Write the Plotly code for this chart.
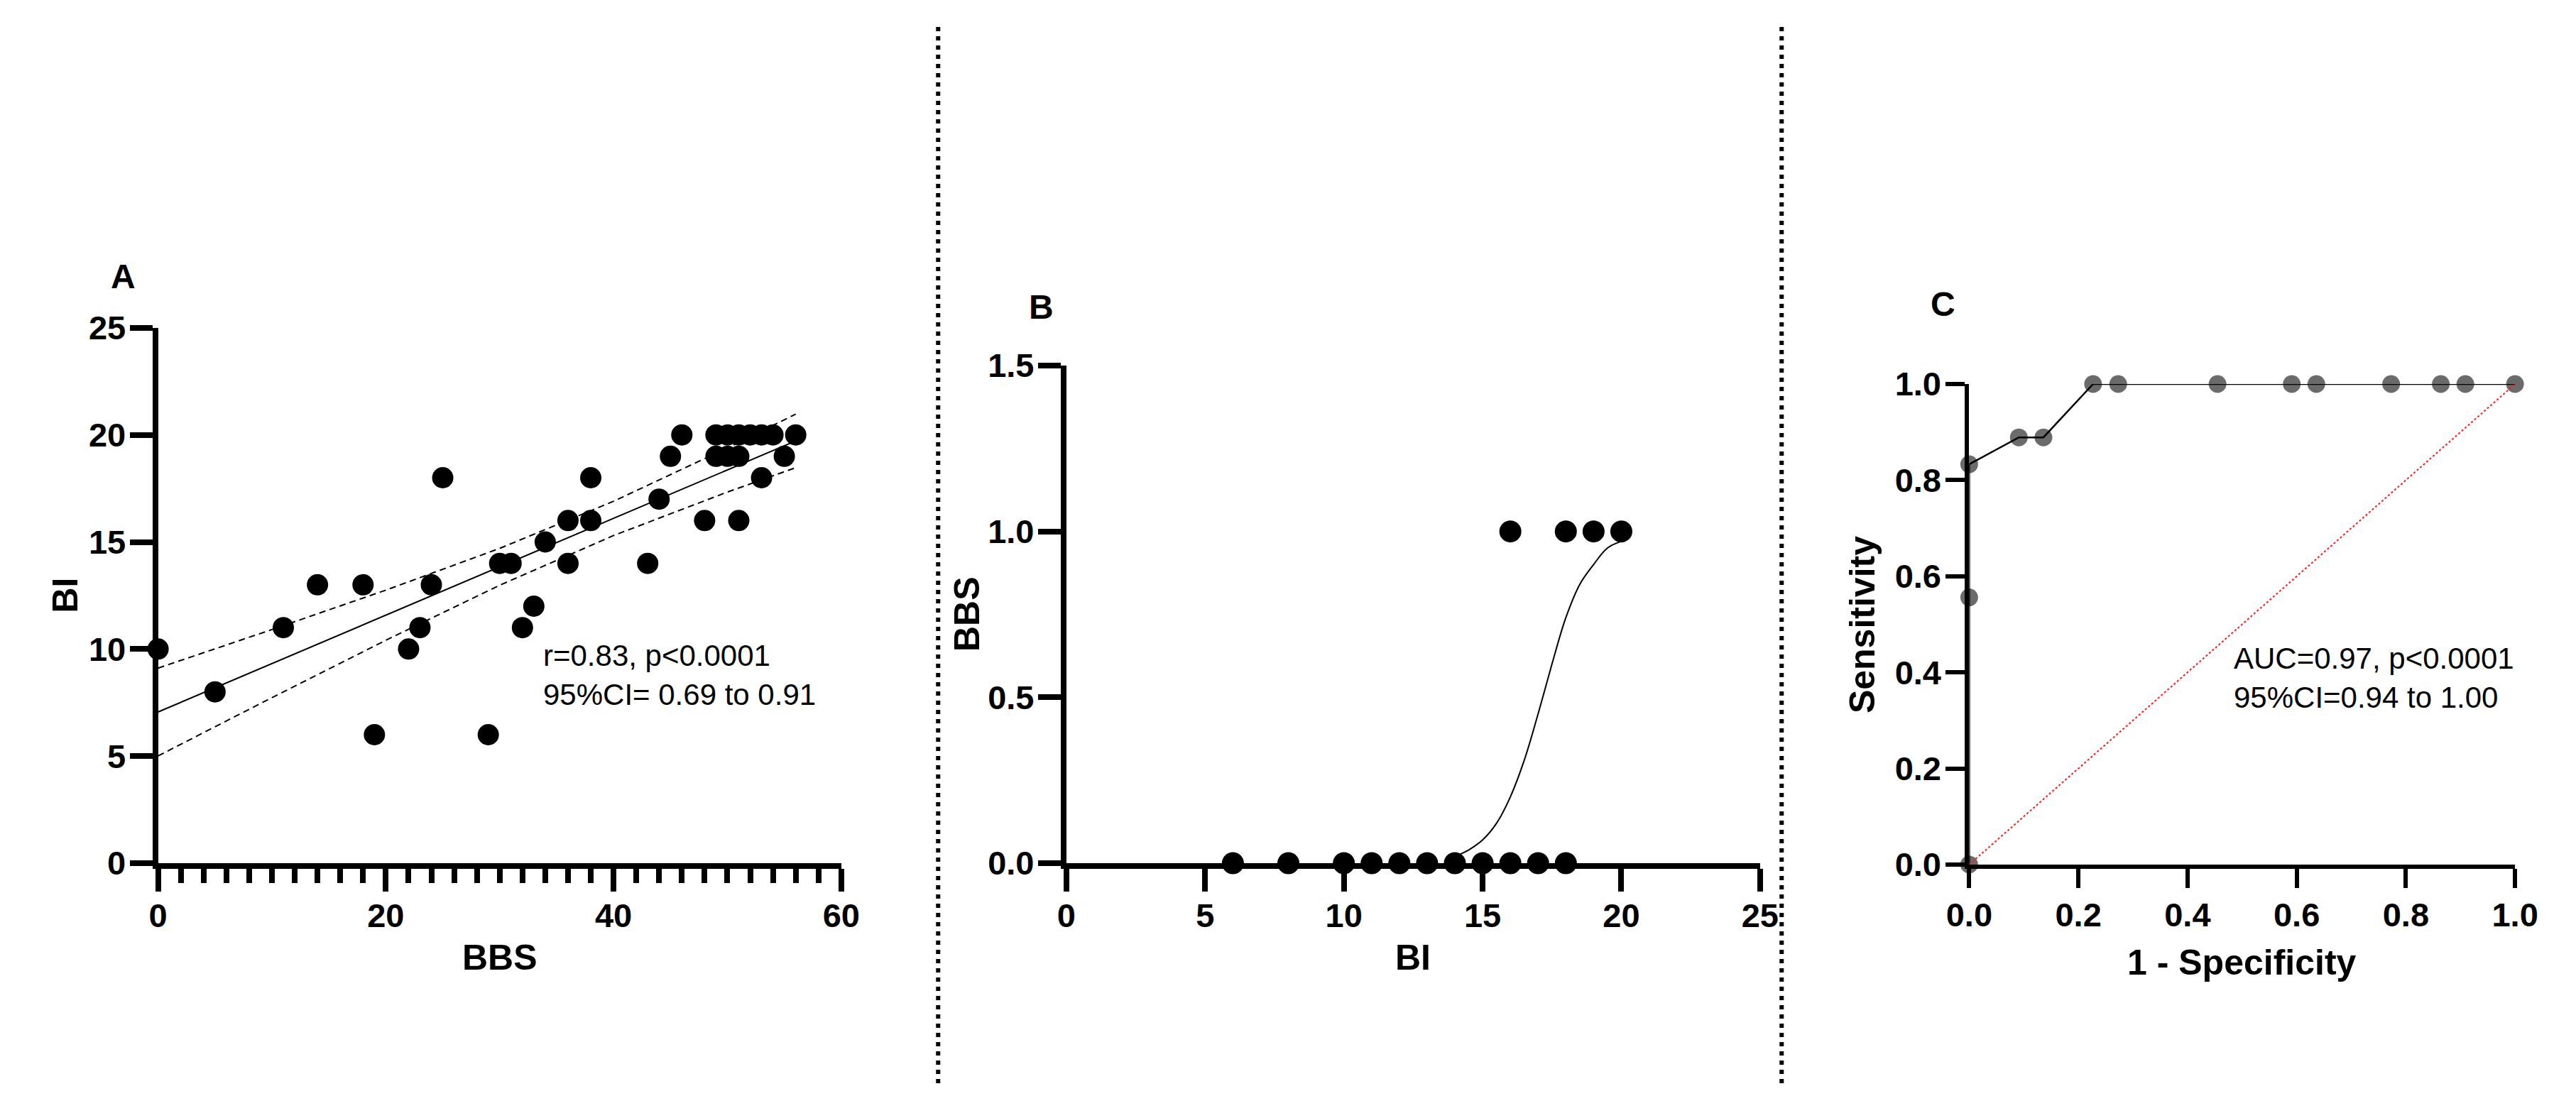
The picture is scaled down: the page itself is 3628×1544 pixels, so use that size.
import plotly.graph_objects as go

W, H = 3628, 1544

# ---------------- Data ----------------
# Panel A: BBS vs BI
a_bbs = [0, 5, 11, 14, 18, 19, 22, 23, 24, 25, 29, 30, 31, 32, 33, 34, 36, 36, 38, 38,
         43, 44, 45, 46, 48, 49, 49, 50, 50, 51, 51, 51, 52, 53, 53, 54, 55, 56]
a_bi = [10, 8, 11, 13, 13, 6, 10, 11, 13, 18, 6, 14, 14, 11, 12, 15, 16, 14, 18, 16,
        14, 17, 19, 20, 16, 20, 19, 20, 19, 20, 19, 16, 20, 20, 18, 20, 19, 20]
reg_x = [0, 56]
reg_y = [7.06, 19.72]
ci_x = [0, 10, 20, 30, 40, 50, 56]
ci_upper = [9.11, 10.91, 12.75, 14.70, 16.90, 19.39, 20.97]
ci_lower = [5.01, 7.73, 10.41, 12.98, 15.30, 17.33, 18.47]

# Panel B: BI vs BBS (binary)
b_bi = [6, 8, 10, 11, 12, 13, 14, 15, 16, 17, 18, 16, 18, 19, 20]
b_bbs = [0, 0, 0, 0, 0, 0, 0, 0, 0, 0, 0, 1, 1, 1, 1]
curve_x = [14, 14.5, 15, 15.5, 16, 16.5, 17, 17.5, 18, 18.5, 19, 19.5, 20]
curve_y = [0.02, 0.04, 0.07, 0.12, 0.20, 0.31, 0.45, 0.60, 0.74, 0.84, 0.90, 0.95, 0.97]

# Panel C: ROC
roc_fpr = [0, 0, 0, 0.091, 0.136, 0.227, 0.273, 0.455, 0.591, 0.636, 0.773, 0.864, 0.909, 1.0]
roc_tpr = [0, 0.556, 0.833, 0.889, 0.889, 1, 1, 1, 1, 1, 1, 1, 1, 1]
diag_x = [0, 1]
diag_y = [0, 1]

text_a = "r=0.83, p<0.0001<br>95%CI= 0.69 to 0.91"
text_c = "AUC=0.97, p<0.0001<br>95%CI=0.94 to 1.00"

# ---------------- Layout helpers ----------------
FONT = "Liberation Sans, Arial, Helvetica, sans-serif"


def px_x(p):
    return p / W


def px_y(p):
    return 1 - p / H


fig = go.Figure()

# Panel A
fig.add_trace(go.Scatter(x=ci_x, y=ci_upper, mode="lines", line=dict(color="black", width=2, dash="9px,6px"),
                         xaxis="x", yaxis="y", showlegend=False, hoverinfo="skip"))
fig.add_trace(go.Scatter(x=ci_x, y=ci_lower, mode="lines", line=dict(color="black", width=2, dash="9px,6px"),
                         xaxis="x", yaxis="y", showlegend=False, hoverinfo="skip"))
fig.add_trace(go.Scatter(x=reg_x, y=reg_y, mode="lines", line=dict(color="black", width=2),
                         xaxis="x", yaxis="y", showlegend=False))
fig.add_trace(go.Scatter(x=a_bbs, y=a_bi, mode="markers", marker=dict(color="black", size=30),
                         xaxis="x", yaxis="y", showlegend=False, cliponaxis=False))

# Panel B
fig.add_trace(go.Scatter(x=curve_x, y=curve_y, mode="lines", line=dict(color="black", width=2, shape="spline"),
                         xaxis="x2", yaxis="y2", showlegend=False))
fig.add_trace(go.Scatter(x=b_bi, y=b_bbs, mode="markers", marker=dict(color="black", size=31),
                         xaxis="x2", yaxis="y2", showlegend=False, cliponaxis=False))

# Panel C
fig.add_trace(go.Scatter(x=roc_fpr, y=roc_tpr, mode="markers", marker=dict(color="#6b6b6b", size=25),
                         xaxis="x3", yaxis="y3", showlegend=False, cliponaxis=False))
fig.add_trace(go.Scatter(x=roc_fpr, y=roc_tpr, mode="lines", line=dict(color="black", width=2.5),
                         xaxis="x3", yaxis="y3", showlegend=False, cliponaxis=False))
fig.add_trace(go.Scatter(x=diag_x, y=diag_y, mode="lines", line=dict(color="#ff1a1a", width=2, dash="dot"),
                         xaxis="x3", yaxis="y3", showlegend=False, cliponaxis=False))

tickfont = dict(family=FONT, size=47, color="black", weight=700)


def axis(domain, rng, dtick, ticklen=32, lw=8, standoff=0, **kw):
    d = dict(domain=domain, range=rng, dtick=dtick, tick0=0, showgrid=False, zeroline=False,
             showline=True, linecolor="black", linewidth=lw, ticks="outside", ticklen=ticklen,
             tickwidth=lw, tickcolor="black", tickfont=tickfont, fixedrange=True,
             ticklabelstandoff=standoff)
    d.update(kw)
    return d


A_x = [px_x(185), px_x(1165)]
A_y = [px_y(1223), px_y(442)]
B_x = [px_x(1488), px_x(2483)]
B_y = [px_y(1223), px_y(497)]
C_x = [px_x(2783), px_x(3566)]
C_y = [px_y(1225), px_y(524)]

fig.update_layout(
    width=W, height=H,
    margin=dict(l=0, r=0, t=0, b=0),
    paper_bgcolor="white", plot_bgcolor="white",
    font=dict(family=FONT, color="black"),
    xaxis=axis(A_x, [0, 60], 20, anchor="y", standoff=-6,
               minor=dict(dtick=2, ticks="outside", ticklen=20, tickwidth=8, tickcolor="black")),
    yaxis=axis(A_y, [0, 25], 5, anchor="x", standoff=-4),
    xaxis2=axis(B_x, [0, 25], 5, anchor="y2", standoff=-6),
    yaxis2=axis(B_y, [0, 1.5], 0.5, anchor="x2", tickformat=".1f", standoff=-4),
    xaxis3=axis(C_x, [0, 1], 0.2, anchor="y3", tickformat=".1f", ticklen=27, lw=6, standoff=-2),
    yaxis3=axis(C_y, [0, 1], 0.2, anchor="x3", tickformat=".1f", ticklen=27, lw=6, standoff=-3),
)

titlefont = dict(family=FONT, size=50, color="black", weight=700)
labelfont = dict(family=FONT, size=48, color="black", weight=700)
annots = []


def paper_text(text, x, y, font, angle=0):
    annots.append(dict(text=text, x=px_x(x), y=px_y(y), xref="paper", yref="paper",
                       xanchor="center", yanchor="middle", showarrow=False, font=font, textangle=angle))


paper_text("A", 135, 367, labelfont)
paper_text("B", 1452, 412, labelfont)
paper_text("C", 2745, 407, labelfont)
paper_text("BBS", 675, 1361, titlefont)
paper_text("BI", 52, 832, titlefont, -90)
paper_text("BI", 1985, 1361, titlefont)
paper_text("BBS", 1346, 860, titlefont, -90)
paper_text("1 - Specificity", 3174, 1368, titlefont)
paper_text("Sensitivity", 2630, 875, titlefont, -90)

statfont = dict(family=FONT, size=42, color="black")
annots.append(dict(text=text_a, x=33.7, y=8.8, xref="x", yref="y", xanchor="left", yanchor="middle",
                   align="left", showarrow=False, font=statfont))
annots.append(dict(text=text_c, x=0.482, y=0.388, xref="x3", yref="y3", xanchor="left", yanchor="middle",
                   align="left", showarrow=False, font=statfont))
fig.update_layout(annotations=annots)

# dotted separators
for sx in (1304, 2514):
    fig.add_shape(type="line", xref="paper", yref="paper", x0=px_x(sx), x1=px_x(sx), y0=0, y1=1,
                  line=dict(color="black", width=6, dash="6px,7px"))

fig.write_html("out.html")
